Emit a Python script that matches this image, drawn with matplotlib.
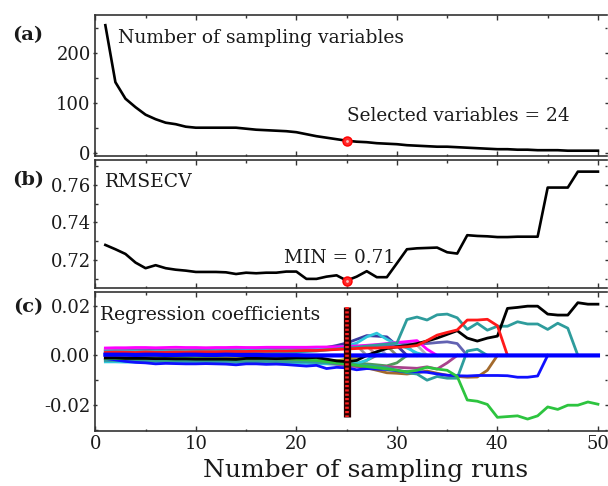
import matplotlib
matplotlib.use('Agg')
import matplotlib.pyplot as plt
from matplotlib.ticker import MultipleLocator

# CARS variable selection: sampled variables, RMSECV and coefficient paths

runs = list(range(1, 51))

n_vars = [255, 141, 108, 91, 76, 67, 60, 57, 52, 50,
          50, 50, 50, 50, 48, 46, 45, 44, 43, 41,
          37, 33, 30, 27, 24, 22, 21, 19, 18, 17,
          15, 14, 13, 12, 12, 11, 10, 9, 8, 7,
          7, 6, 6, 5, 5, 5, 4, 4, 4, 4]

rmsecv = [0.7280, 0.7257, 0.7232, 0.7186, 0.7156, 0.7172, 0.7156, 0.7148, 0.7143, 0.7136,
          0.7136, 0.7136, 0.7134, 0.7125, 0.7132, 0.7129, 0.7132, 0.7132, 0.7138, 0.7138,
          0.7099, 0.7099, 0.7111, 0.7118, 0.7090, 0.7111, 0.7140, 0.7108, 0.7108, 0.7182,
          0.7257, 0.7262, 0.7264, 0.7266, 0.7241, 0.7234, 0.7332, 0.7328, 0.7326, 0.7322,
          0.7322, 0.7324, 0.7324, 0.7324, 0.7586, 0.7586, 0.7586, 0.7671, 0.7671, 0.7671]

sel_run = 25
bar_span = [0.0196, -0.0248]

# coefficient paths in units of 1e-3; each list goes from run 1 until the
# variable is dropped (0), after that it lies under the blue zero line
lad_a = [2.6, 2.6, 2.7, 2.7, 2.7, 2.8, 2.8, 2.8, 2.8, 2.9, 2.9, 2.9, 2.9, 3.0, 3.0, 3.0, 3.0, 3.1, 3.1, 3.1,
         3.1, 3.2, 3.3, 3.5, 3.7, 4.0, 0]
lad_b = [2.0, 2.0, 2.0, 2.1, 2.1, 2.1, 2.2, 2.2, 2.2, 2.3, 2.3, 2.3, 2.3, 2.4, 2.4, 2.4, 2.5, 2.5, 2.5, 2.6,
         2.6, 2.7, 2.9, 3.1, 3.4, 3.7, 3.9, 0]
lad_c = [2.4, 2.4, 2.5, 2.5, 2.5, 2.5, 2.6, 2.6, 2.6, 2.6, 2.7, 2.7, 2.7, 2.7, 2.8, 2.8, 2.8, 2.9, 2.9, 2.9,
         3.0, 3.0, 3.1, 3.2, 3.4, 3.6, 3.8, 4.0, 0]
lad_d = [1.7, 1.7, 1.8, 1.8, 1.8, 1.9, 1.9, 1.9, 2.0, 2.0, 2.0, 2.1, 2.1, 2.1, 2.2, 2.2, 2.2, 2.3, 2.3, 2.4,
         2.4, 2.5, 2.6, 2.8, 3.0, 3.2, 3.5, 3.7, 3.9, 0]
lad_e = [2.1, 2.1, 2.2, 2.2, 2.2, 2.3, 2.3, 2.3, 2.3, 2.4, 2.4, 2.4, 2.5, 2.5, 2.5, 2.5, 2.6, 2.6, 2.6, 2.7,
         2.7, 2.8, 2.9, 3.0, 3.2, 3.3, 3.5, 3.6, 3.8, 4.0, 0]
lad_f = [1.9, 1.9, 1.9, 2.0, 2.0, 2.0, 2.1, 2.1, 2.1, 2.1, 2.2, 2.2, 2.2, 2.3, 2.3, 2.3, 2.4, 2.4, 2.4, 2.5,
         2.5, 2.6, 2.7, 2.9, 3.0, 3.1, 3.3, 3.4, 3.6, 3.8, 4.0, 0]
lad_g = [2.3, 2.3, 2.3, 2.4, 2.4, 2.4, 2.5, 2.5, 2.5, 2.5, 2.6, 2.6, 2.6, 2.6, 2.7, 2.7, 2.7, 2.8, 2.8, 2.8,
         2.9, 3.0, 3.1, 3.2, 3.3, 3.4, 3.5, 3.6, 3.7, 3.8, 4.0, 4.2, 0]
nlad_a = [-2.3, -2.3, -2.4, -2.4, -2.4, -2.5, -2.5, -2.5, -2.6, -2.6, -2.6, -2.6, -2.7, -2.7, -2.7, -2.8, -2.8,
          -2.8, -2.9, -2.9, -3.0, -3.1, -3.3, -3.5, -3.8, -3.6, -2.0, 0]
nlad_b = [-0.5, -0.5, -0.6, -0.6, -0.6, -0.7, -0.7, -0.7, -0.8, -0.8, -0.8, -0.9, -0.9, -0.9, -1.0, -1.0, -1.0,
          -1.1, -1.1, -1.2, -1.3, -1.5, -1.8, -2.2, -2.6, -3.0, -3.4, -3.8, -4.2, -3.0, 0]
coef_olive = [-1.5, -1.5, -1.6, -1.6, -1.6, -1.7, -1.7, -1.7, -1.8, -1.8, -1.8, -1.8, -1.9, -1.9, -1.9, -2.0,
              -2.0, -2.1, -2.2, -2.3, -2.4, -2.5, -2.6, -2.2, -1.5, -0.8, 0]
coef_cyan_lo = [-2.6, -2.6, -2.7, -2.7, -2.8, -2.8, -2.8, -2.9, -2.9, -2.9, -3.0, -3.0, -3.0, -3.0, -3.1, -3.1,
                -3.1, -3.2, -3.2, -3.2, -3.2, -3.3, -3.4, -3.5, -3.5, -3.2, -2.0, 1.0, 0]
coef_mauve = [-1.8, -1.8, -1.9, -1.9, -2.0, -2.0, -2.0, -2.1, -2.1, -2.0, -2.1, -2.1, -2.2, -2.2, -2.2, -2.3,
              -2.2, -2.3, -2.3, -2.4, -2.4, -2.5, -2.8, -3.5, -4.2, -4.5, -4.6, -4.8, -4.5, -4.8, -5.0, -5.2,
              -4.6, -5.5, -3.0, 0]
coef_navy = [1.6, 1.6, 1.7, 1.7, 1.8, 1.8, 1.7, 1.8, 1.9, 1.9, 1.9, 2.0, 2.0, 2.0, 2.1, 2.1, 2.2, 2.2, 2.3, 2.3,
             2.4, 2.6, 3.2, 4.0, 5.0, 6.5, 8.0, 7.8, 7.5, 4.0, 0]
coef_slate = [1.8, 1.9, 1.9, 2.0, 2.0, 2.1, 2.0, 2.1, 2.1, 2.2, 2.2, 2.2, 2.3, 2.3, 2.3, 2.4, 2.4, 2.5, 2.5, 2.6,
              2.6, 2.7, 2.9, 3.0, 3.2, 3.5, 3.8, 4.0, 4.2, 4.5, 4.8, 4.6, 4.8, 5.2, 5.5, 4.8, 0]
coef_cyan_hi = [1.4, 1.4, 1.5, 1.5, 1.5, 1.6, 1.6, 1.6, 1.7, 1.7, 1.7, 1.8, 1.8, 1.8, 1.9, 1.9, 2.0, 2.0, 2.1,
                2.1, 2.2, 2.4, 2.8, 3.2, 3.8, 5.0, 7.5, 9.0, 6.5, 4.5, 3.0, 1.0, 0]
coef_magenta = [3.0, 3.1, 3.1, 3.2, 3.2, 3.1, 3.2, 3.3, 3.2, 3.2, 3.1, 3.2, 3.2, 3.3, 3.2, 3.2, 3.3, 3.3, 3.3,
                3.3, 3.3, 3.4, 3.4, 3.5, 3.6, 3.8, 4.1, 4.4, 4.8, 5.2, 5.6, 6.0, 2.5, 0]
coef_brown = [-0.8, -0.8, -0.9, -0.9, -1.0, -0.9, -1.0, -1.0, -1.1, -1.0, -1.1, -1.1, -1.2, -1.2, -1.1, -1.2,
              -1.2, -1.3, -1.3, -1.4, -1.6, -1.8, -2.2, -2.6, -3.0, -4.0, -5.0, -6.0, -7.0, -7.2, -7.5, -7.0,
              -6.3, -7.2, -8.0, -8.5, -8.8, -8.7, -6.0, 0]
coef_teal2 = [-2.0, -2.0, -2.1, -2.1, -2.2, -2.2, -2.3, -2.2, -2.3, -2.3, -2.4, -2.4, -2.3, -2.4, -2.5, -2.5,
              -2.4, -2.5, -2.5, -2.6, -2.6, -2.8, -3.0, -3.2, -3.5, -3.8, -4.0, -4.5, -5.0, -6.0, -7.0, -7.5,
              -10.0, -8.5, -9.2, -9.2, 1.8, 2.5, 0]
coef_blue = [-1.2, -1.8, -2.4, -2.8, -3.0, -3.4, -3.2, -3.3, -3.4, -3.4, -3.3, -3.4, -3.5, -3.8, -3.4, -3.4,
             -3.6, -3.5, -3.7, -4.0, -4.3, -4.0, -5.3, -4.8, -5.0, -5.8, -5.3, -5.5, -5.7, -6.2, -6.6, -6.6,
             -6.8, -7.5, -8.0, -8.2, -8.3, -8.1, -8.1, -8.1, -8.2, -8.8, -8.8, -8.3, 0]
coef_green = [-1.2, -1.2, -1.3, -1.3, -1.2, -1.3, -1.4, -1.4, -1.3, -1.3, -1.4, -1.4, -1.5, -1.5, -1.4, -1.4,
              -1.3, -1.4, -1.5, -1.6, -1.8, -2.0, -2.5, -3.0, -3.5, -4.0, -4.5, -5.0, -5.5, -6.0, -6.6, -6.0,
              -4.8, -5.5, -6.0, -8.5, -18.0, -18.5, -19.8, -25.0, -24.7, -24.4, -25.7, -24.4, -20.8, -21.8,
              -20.1, -20.1, -18.8, -19.7]
coef_teal = [0.8, 0.8, 0.9, 0.9, 1.0, 1.0, 0.9, 1.0, 1.0, 1.1, 1.1, 1.0, 1.1, 1.2, 1.2, 1.2, 1.3, 1.3, 1.4, 1.5,
             1.6, 1.8, 2.2, 2.6, 3.0, 3.3, 3.8, 4.2, 4.6, 5.0, 14.5, 15.5, 14.3, 16.4, 16.7, 15.2, 10.5, 13.0,
             10.2, 11.8, 11.8, 13.6, 12.7, 12.7, 10.5, 13.0, 11.0, 0]
coef_black = [-1.0, -1.0, -1.2, -1.2, -1.2, -1.3, -1.3, -1.4, -1.4, -1.5, -1.5, -1.5, -1.5, -1.6, -1.2, -1.2,
              -1.2, -1.3, -1.2, -1.0, -1.0, -0.8, -1.5, -2.2, -2.5, -2.0, 0.0, 1.5, 2.8, 3.5, 4.0, 4.8, 5.8,
              7.0, 8.5, 10.0, 7.0, 5.8, 7.0, 7.8, 19.0, 19.4, 19.9, 19.9, 16.7, 16.3, 16.3, 21.3, 20.7, 20.7]
coef_red = [1.2, 1.3, 1.3, 1.2, 1.4, 1.3, 1.3, 1.4, 1.4, 1.5, 1.5, 1.5, 1.6, 1.6, 1.6, 1.7, 1.7, 1.8, 1.8, 1.9,
            2.0, 2.0, 2.2, 2.4, 2.6, 2.8, 3.0, 3.0, 3.2, 3.3, 3.5, 4.0, 6.0, 8.2, 9.3, 10.3, 14.3, 14.3, 14.6,
            12.0, 0]
coef_zero = [0.3, 0.3, 0.3, 0.2, 0.3, 0.3, 0.2, 0.2, 0.3, 0.3, 0.2, 0.2, 0.3, 0.2, 0.2, 0.2, 0.1, 0.1, 0.1, 0.1,
             0, 0, 0, 0, 0, 0, 0, 0, 0, 0, 0, 0, 0, 0, 0, 0, 0, 0, 0, 0,
             0, 0, 0, 0, 0, 0, 0, 0, 0, 0]

paths = [
    (lad_a, '#9a9a9a'), (lad_b, '#c39090'), (lad_c, '#a0a0d4'), (lad_d, '#8c8c6c'),
    (lad_e, '#c8a0c8'), (lad_f, '#80aaaa'), (lad_g, '#b4b4b4'), (nlad_a, '#7a7a7a'),
    (nlad_b, '#4f9a5a'), (coef_olive, '#b5a82a'), (coef_cyan_lo, '#2ec8dc'),
    (coef_mauve, '#a8438c'), (coef_navy, '#3a3aa0'), (coef_slate, '#6262b2'),
    (coef_cyan_hi, '#2ec8dc'), (coef_magenta, '#ff00ff'), (coef_brown, '#a36a2c'),
    (coef_teal2, '#2e9c9c'), (coef_blue, '#1010ff'), (coef_green, '#2dc43f'),
    (coef_teal, '#2e9c9c'), (coef_black, '#000000'), (coef_red, '#ff1a1a'),
]

a_ticks = [0, 100, 200]
b_ticks = [0.72, 0.74, 0.76]
c_ticks = [-0.02, 0.0, 0.02]
c_labels = ['-0.02', '0.00', '0.02']
x_ticks = [0, 10, 20, 30, 40, 50]

W, H = 608, 486
TXT = '#1a1a1a'


def panel(fig, top, bottom):
    ax = fig.add_axes([95.3 / W, 1 - bottom / H, (607 - 95.3) / W, (bottom - top) / H])
    ax.set_xlim(0, 50.9)
    ax.set_xticks(x_ticks)
    ax.xaxis.set_minor_locator(MultipleLocator(5))
    ax.tick_params(which='both', top=True, right=True, labelsize=13, colors='#333333',
                   labelcolor=TXT, width=1)
    ax.tick_params(axis='y', which='major', direction='inout', length=3.4, pad=1.6)
    ax.tick_params(axis='y', which='minor', direction='in', length=1.8)
    ax.tick_params(axis='x', which='major', direction='in', length=3.4, pad=3)
    ax.tick_params(axis='x', which='minor', direction='in', length=1.8)
    ax.spines['right'].set_visible(False)
    for s in ('left', 'top', 'bottom'):
        ax.spines[s].set_linewidth(1.2)
        ax.spines[s].set_color('#333333')
    return ax


def red_dot(ax, x, y):
    ax.plot(x, y, 'o', ms=6.5, mfc='#ff2a2a', mec='#ff0000', zorder=5)
    ax.plot(x, y, 'o', ms=2, mfc='#ffc0c0', mec='none', zorder=6)


def main():
    plt.rcParams['font.family'] = ['DejaVu Serif']
    fig = plt.figure(figsize=(W / 100, H / 100), dpi=100)

    # (a) number of sampled variables
    ax1 = panel(fig, 15, 156)
    ax1.plot(runs, n_vars, color='black', lw=1.9)
    red_dot(ax1, sel_run, n_vars[sel_run - 1])
    ax1.set_ylim(-6.6, 275.4)
    ax1.set_yticks(a_ticks)
    ax1.yaxis.set_minor_locator(MultipleLocator(50))
    ax1.tick_params(axis='x', labelbottom=False)
    ax1.text(2.3, 219, 'Number of sampling variables', fontsize=13.5, color=TXT, va='baseline')
    ax1.text(25.0, 63, 'Selected variables = %d' % n_vars[sel_run - 1], fontsize=13.3,
             color=TXT, va='baseline')

    # (b) RMSECV
    ax2 = panel(fig, 160, 287.7)
    ax2.plot(runs, rmsecv, color='black', lw=1.9)
    red_dot(ax2, sel_run, rmsecv[sel_run - 1])
    ax2.set_ylim(0.7052, 0.7733)
    ax2.set_yticks(b_ticks)
    ax2.set_yticklabels(['%.2f' % t for t in b_ticks])
    ax2.yaxis.set_minor_locator(MultipleLocator(0.01))
    ax2.tick_params(axis='x', labelbottom=False)
    ax2.text(1.0, 0.7591, 'RMSECV', fontsize=13.5, color=TXT, va='baseline')
    ax2.text(18.8, 0.7186, 'MIN = %.2f' % min(rmsecv), fontsize=13.3, color=TXT, va='baseline')

    # (c) regression coefficient paths
    ax3 = panel(fig, 292.3, 430.7)
    for vals, col in paths:
        ax3.plot(runs[:len(vals)], [v * 1e-3 for v in vals], color=col, lw=2.0)
    ax3.plot(runs, [v * 1e-3 for v in coef_zero], color='#0000ff', lw=3.0)
    ax3.plot([sel_run, sel_run], bar_span, color='#2a0000', lw=5.2,
             solid_capstyle='butt', zorder=7)
    ax3.plot([sel_run, sel_run], bar_span, color='#ff2020', lw=2.6,
             ls=(0, (0.6, 0.6)), zorder=8)
    ax3.set_ylim(-0.0304, 0.0255)
    ax3.set_yticks(c_ticks)
    ax3.set_yticklabels(c_labels)
    ax3.yaxis.set_minor_locator(MultipleLocator(0.01))
    ax3.text(0.45, 0.01426, 'Regression coefficients', fontsize=13.5, color=TXT,
             va='baseline', zorder=9)

    for lab, yc in (('(a)', 35), ('(b)', 180), ('(c)', 306.7)):
        fig.text(28 / W, 1 - yc / H, lab, fontsize=14, fontweight='bold', color=TXT,
                 ha='center', va='center')
    fig.text(366 / W, 1 - 477.3 / H, 'Number of sampling runs', fontsize=18, color=TXT,
             ha='center', va='baseline')

    fig.savefig('out.png', dpi=100)


if __name__ == "__main__":
    main()
